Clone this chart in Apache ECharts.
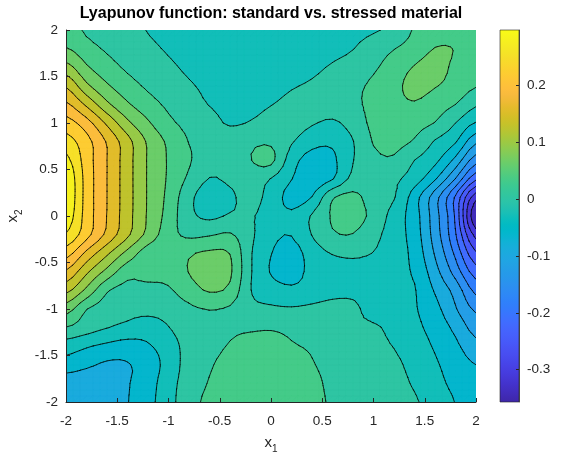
<!DOCTYPE html>
<html>
<head>
<meta charset="utf-8">
<script src="https://cdn.jsdelivr.net/npm/echarts@6/dist/echarts.min.js"></script>
<style>
  html, body { margin: 0; padding: 0; background: #ffffff; }
  #chart { width: 562px; height: 452px; }
</style>
</head>
<body>
<div id="chart"></div>
<script>
// Sample grid of the state plane
const x1Grid = [-2.0, -1.8, -1.6, -1.4, -1.2, -1.0, -0.8, -0.6, -0.4, -0.2, 0.0, 0.2, 0.4, 0.6, 0.8, 1.0, 1.2, 1.4, 1.6, 1.8, 2.0];
const x2Grid = [2.0, 1.8, 1.6, 1.4, 1.2, 1.0, 0.8, 0.6, 0.4, 0.2, 0.0, -0.2, -0.4, -0.6, -0.8, -1.0, -1.2, -1.4, -1.6, -1.8, -2.0];

// Lyapunov function values V(x1, x2); one row per x2 value (top row x2 = 2)
const V = [
  [0.030, 0.013, 0.003, -0.006, -0.015, -0.022, -0.028, -0.031, -0.033, -0.034, -0.034, -0.033, -0.030, -0.026, -0.021, -0.017, -0.005, 0.020, 0.033, 0.039, 0.033],
  [0.050, 0.028, 0.013, 0.002, -0.008, -0.017, -0.025, -0.030, -0.033, -0.034, -0.034, -0.033, -0.030, -0.025, -0.015, 0.002, 0.016, 0.030, 0.049, 0.047, 0.036],
  [0.092, 0.052, 0.029, 0.012, 0.001, -0.009, -0.019, -0.026, -0.030, -0.031, -0.032, -0.030, -0.022, -0.010, 0.002, 0.013, 0.030, 0.050, 0.059, 0.042, 0.034],
  [0.139, 0.087, 0.052, 0.029, 0.012, 0.000, -0.011, -0.020, -0.026, -0.028, -0.026, -0.017, -0.009, 0.002, 0.011, 0.022, 0.039, 0.058, 0.050, 0.036, 0.019],
  [0.179, 0.136, 0.087, 0.052, 0.029, 0.011, -0.003, -0.015, -0.022, -0.023, -0.015, -0.005, 0.002, 0.003, 0.011, 0.025, 0.038, 0.045, 0.031, 0.017, -0.010],
  [0.218, 0.186, 0.136, 0.087, 0.052, 0.024, 0.008, -0.004, -0.017, -0.012, -0.001, 0.000, -0.011, -0.019, -0.001, 0.024, 0.031, 0.027, 0.016, -0.014, -0.047],
  [0.250, 0.215, 0.170, 0.122, 0.075, 0.042, 0.016, 0.005, 0.002, 0.011, 0.012, -0.011, -0.034, -0.039, -0.015, 0.019, 0.024, 0.014, -0.017, -0.042, -0.101],
  [0.276, 0.220, 0.173, 0.124, 0.077, 0.045, 0.020, -0.001, -0.003, 0.016, 0.025, -0.031, -0.058, -0.051, -0.015, 0.009, 0.013, -0.014, -0.037, -0.085, -0.157],
  [0.293, 0.223, 0.173, 0.124, 0.077, 0.044, 0.011, -0.015, -0.008, 0.000, -0.015, -0.044, -0.062, -0.047, -0.005, 0.000, -0.008, -0.030, -0.072, -0.140, -0.226],
  [0.295, 0.223, 0.173, 0.124, 0.077, 0.040, -0.005, -0.031, -0.020, -0.003, -0.026, -0.056, -0.044, 0.014, 0.025, 0.002, -0.012, -0.062, -0.125, -0.206, -0.316],
  [0.286, 0.222, 0.172, 0.123, 0.076, 0.036, -0.005, -0.020, -0.011, -0.011, -0.028, -0.040, -0.011, 0.020, 0.028, 0.008, -0.027, -0.062, -0.125, -0.206, -0.357],
  [0.265, 0.215, 0.165, 0.117, 0.070, 0.030, 0.011, 0.014, 0.020, -0.008, -0.036, -0.044, -0.013, 0.013, 0.016, -0.005, -0.029, -0.060, -0.121, -0.198, -0.307],
  [0.218, 0.165, 0.117, 0.070, 0.031, 0.028, 0.044, 0.053, 0.047, -0.011, -0.044, -0.058, -0.031, -0.012, -0.006, -0.015, -0.030, -0.055, -0.110, -0.177, -0.259],
  [0.169, 0.117, 0.070, 0.028, 0.030, 0.028, 0.049, 0.064, 0.053, -0.011, -0.047, -0.059, -0.036, -0.033, -0.031, -0.031, -0.036, -0.049, -0.095, -0.152, -0.217],
  [0.120, 0.072, 0.020, 0.008, 0.006, 0.013, 0.033, 0.051, 0.040, -0.013, -0.030, -0.038, -0.031, -0.023, -0.023, -0.031, -0.036, -0.043, -0.079, -0.119, -0.179],
  [0.063, 0.018, 0.004, -0.004, -0.005, -0.001, 0.011, 0.018, 0.013, -0.005, -0.009, -0.011, -0.008, -0.005, -0.006, -0.030, -0.030, -0.042, -0.066, -0.104, -0.145],
  [0.016, 0.000, -0.013, -0.022, -0.030, -0.015, 0.005, 0.009, 0.013, 0.013, 0.014, 0.009, 0.002, -0.003, -0.006, -0.009, -0.024, -0.038, -0.056, -0.084, -0.120],
  [-0.030, -0.042, -0.052, -0.058, -0.048, -0.030, -0.001, 0.009, 0.019, 0.028, 0.030, 0.020, 0.013, 0.003, -0.001, -0.005, -0.015, -0.031, -0.048, -0.069, -0.097],
  [-0.059, -0.070, -0.081, -0.078, -0.061, -0.033, -0.001, 0.014, 0.027, 0.033, 0.034, 0.031, 0.019, 0.008, 0.003, -0.001, -0.008, -0.023, -0.041, -0.059, -0.076],
  [-0.094, -0.097, -0.092, -0.078, -0.059, -0.026, 0.000, 0.019, 0.030, 0.034, 0.036, 0.033, 0.024, 0.011, 0.005, 0.002, -0.005, -0.017, -0.035, -0.053, -0.067],
  [-0.097, -0.098, -0.092, -0.077, -0.055, -0.025, 0.005, 0.024, 0.030, 0.033, 0.033, 0.030, 0.024, 0.014, 0.009, 0.005, -0.001, -0.011, -0.026, -0.046, -0.059]
];

// Contour levels and colour limits
const contourLevels = [-0.326, -0.295, -0.263, -0.232, -0.201, -0.170, -0.139, -0.107, -0.076, -0.045,
                       -0.014, 0.017, 0.048, 0.080, 0.111, 0.142, 0.173, 0.204, 0.236, 0.267];
const colorLimits = [-0.357, 0.298];
const colorbarTicks = [-0.3, -0.2, -0.1, 0, 0.1, 0.2];
const titleText = 'Lyapunov function: standard vs. stressed material';

// parula colormap (64 entries)
const PARULA = [
  [0.2422,0.1504,0.6603],[0.2504,0.1650,0.7076],[0.2578,0.1818,0.7511],[0.2647,0.1978,0.7952],
  [0.2706,0.2147,0.8364],[0.2751,0.2342,0.8710],[0.2783,0.2559,0.8991],[0.2803,0.2782,0.9221],
  [0.2813,0.3006,0.9414],[0.2810,0.3228,0.9579],[0.2795,0.3447,0.9717],[0.2760,0.3667,0.9829],
  [0.2699,0.3892,0.9906],[0.2602,0.4123,0.9952],[0.2440,0.4358,0.9988],[0.2206,0.4603,0.9973],
  [0.1963,0.4847,0.9892],[0.1834,0.5074,0.9798],[0.1786,0.5289,0.9682],[0.1764,0.5499,0.9520],
  [0.1687,0.5703,0.9359],[0.1540,0.5902,0.9218],[0.1460,0.6091,0.9079],[0.1380,0.6276,0.8973],
  [0.1248,0.6459,0.8883],[0.1113,0.6635,0.8763],[0.0952,0.6798,0.8598],[0.0689,0.6948,0.8394],
  [0.0297,0.7082,0.8163],[0.0036,0.7203,0.7917],[0.0067,0.7312,0.7660],[0.0433,0.7411,0.7394],
  [0.0964,0.7500,0.7120],[0.1408,0.7584,0.6842],[0.1717,0.7670,0.6554],[0.1938,0.7758,0.6251],
  [0.2161,0.7843,0.5923],[0.2470,0.7918,0.5567],[0.2906,0.7973,0.5188],[0.3406,0.8008,0.4789],
  [0.3909,0.8029,0.4354],[0.4456,0.8024,0.3909],[0.5044,0.7993,0.3480],[0.5616,0.7942,0.3045],
  [0.6174,0.7876,0.2612],[0.6720,0.7793,0.2227],[0.7242,0.7698,0.1910],[0.7738,0.7598,0.1646],
  [0.8203,0.7498,0.1535],[0.8634,0.7406,0.1596],[0.9035,0.7330,0.1774],[0.9393,0.7288,0.2100],
  [0.9728,0.7298,0.2394],[0.9956,0.7434,0.2371],[0.9970,0.7659,0.2199],[0.9952,0.7893,0.2028],
  [0.9892,0.8136,0.1885],[0.9786,0.8386,0.1766],[0.9676,0.8639,0.1643],[0.9610,0.8890,0.1537],
  [0.9597,0.9135,0.1423],[0.9628,0.9373,0.1265],[0.9691,0.9606,0.1064],[0.9769,0.9839,0.0805]
];

function parula(f) {
  f = Math.max(0, Math.min(1, f));
  const p = f * (PARULA.length - 1);
  const i = Math.min(PARULA.length - 2, Math.floor(p));
  const t = p - i;
  const a = PARULA[i], b = PARULA[i + 1];
  const c = [0, 1, 2].map(k => Math.round(255 * (a[k] + (b[k] - a[k]) * t)));
  return 'rgb(' + c.join(',') + ')';
}

const [cMin, cMax] = colorLimits;
// Each band between two levels is filled with the colour at the middle of that band
function bandColor(k) {
  const lo = k === 0 ? cMin : contourLevels[k - 1];
  const hi = k === contourLevels.length ? cMax : contourLevels[k];
  return parula(((lo + hi) / 2 - cMin) / (cMax - cMin));
}

// Smooth (Catmull-Rom) resampling of the value grid so the drawn contours are curved
const REFINE = 3;
function cr(p0, p1, p2, p3, t) {
  return 0.5 * (2 * p1 + (-p0 + p2) * t + (2 * p0 - 5 * p1 + 4 * p2 - p3) * t * t + (-p0 + 3 * p1 - 3 * p2 + p3) * t * t * t);
}
function sampleGrid(rf, cf) {
  const nr = V.length, nc = V[0].length;
  const r1 = Math.min(nr - 2, Math.floor(rf)), c1 = Math.min(nc - 2, Math.floor(cf));
  const tr = rf - r1, tc = cf - c1;
  const rowAt = r => V[Math.max(0, Math.min(nr - 1, r))];
  const colVal = (row, c) => row[Math.max(0, Math.min(nc - 1, c))];
  const vals = [];
  for (let dr = -1; dr <= 2; dr++) {
    const row = rowAt(r1 + dr);
    vals.push(cr(colVal(row, c1 - 1), colVal(row, c1), colVal(row, c1 + 1), colVal(row, c1 + 2), tc));
  }
  return cr(vals[0], vals[1], vals[2], vals[3], tr);
}

function buildTriangles() {
  const nr = (x2Grid.length - 1) * REFINE + 1;
  const nc = (x1Grid.length - 1) * REFINE + 1;
  const x0 = x1Grid[0], dx = (x1Grid[1] - x1Grid[0]) / REFINE;
  const y0 = x2Grid[0], dy = (x2Grid[1] - x2Grid[0]) / REFINE;
  const P = [];
  for (let R = 0; R < nr; R++) {
    const row = [];
    for (let C = 0; C < nc; C++) {
      row.push({ x: x0 + C * dx, y: y0 + R * dy, v: sampleGrid(R / REFINE, C / REFINE) });
    }
    P.push(row);
  }
  const tris = [];
  for (let R = 0; R < nr - 1; R++) {
    for (let C = 0; C < nc - 1; C++) {
      const p00 = P[R + 1][C], p10 = P[R + 1][C + 1], p11 = P[R][C + 1], p01 = P[R][C];
      tris.push([p00, p10, p11], [p00, p11, p01]);
    }
  }
  return tris;
}
const TRIS = buildTriangles();

// Part of a polygon where the value is >= level
function clipAbove(poly, level) {
  const out = [];
  for (let i = 0; i < poly.length; i++) {
    const a = poly[i], b = poly[(i + 1) % poly.length];
    const ain = a.v >= level, bin = b.v >= level;
    if (ain) out.push(a);
    if (ain !== bin) {
      const s = (level - a.v) / (b.v - a.v);
      out.push({ x: a.x + (b.x - a.x) * s, y: a.y + (b.y - a.y) * s, v: level });
    }
  }
  return out;
}

function renderContours(params, api) {
  const px = p => api.coord([p.x, p.y]);
  const fmt = q => q[0].toFixed(2) + ' ' + q[1].toFixed(2);
  const children = [];
  // filled bands, painted from the lowest level upward
  for (let k = 0; k <= contourLevels.length; k++) {
    const level = k === 0 ? -Infinity : contourLevels[k - 1];
    const d = [];
    for (const t of TRIS) {
      const poly = k === 0 ? t : clipAbove(t, level);
      if (poly.length < 3) continue;
      poly.forEach((p, i) => d.push((i ? 'L' : 'M') + fmt(px(p))));
      d.push('Z');
    }
    if (d.length) {
      const col = bandColor(k);
      children.push({
        type: 'path', silent: true,
        shape: { pathData: d.join('') },
        style: { fill: col, stroke: col, lineWidth: 0.5 }
      });
    }
  }
  // iso-lines
  const ld = [];
  for (const level of contourLevels) {
    for (const t of TRIS) {
      const pts = [];
      for (let i = 0; i < 3; i++) {
        const a = t[i], b = t[(i + 1) % 3];
        if ((a.v >= level) !== (b.v >= level)) {
          const s = (level - a.v) / (b.v - a.v);
          pts.push({ x: a.x + (b.x - a.x) * s, y: a.y + (b.y - a.y) * s });
        }
      }
      if (pts.length === 2) ld.push('M' + fmt(px(pts[0])) + 'L' + fmt(px(pts[1])));
    }
  }
  children.push({
    type: 'path', silent: true,
    shape: { pathData: ld.join('') },
    style: { fill: 'none', stroke: '#000000', lineWidth: 0.8, lineJoin: 'round', lineCap: 'round' }
  });
  return { type: 'group', children };
}

function renderColorbar(params, api) {
  const tl = api.coord([0, cMax]);
  const br = api.coord([1, cMin]);
  const stops = PARULA.map((c, i) => ({
    offset: i / (PARULA.length - 1),
    color: 'rgb(' + c.map(v => Math.round(v * 255)).join(',') + ')'
  }));
  return {
    type: 'rect', silent: true,
    shape: { x: tl[0], y: tl[1], width: br[0] - tl[0], height: br[1] - tl[1] },
    style: { fill: new echarts.graphic.LinearGradient(0, 1, 0, 0, stops), stroke: '#262626', lineWidth: 0.6 }
  };
}

const FONT = '"Liberation Sans", Arial, Helvetica, sans-serif';
const AX = '#262626';
const subRich = {
  v: { fontSize: 15, fontFamily: FONT, color: AX, lineHeight: 22, verticalAlign: 'middle' },
  s: { fontSize: 10, fontFamily: FONT, color: AX, lineHeight: 22, verticalAlign: 'bottom' }
};

const chart = echarts.init(document.getElementById('chart'), null, { renderer: 'canvas' });
chart.setOption({
  animation: false,
  backgroundColor: '#ffffff',
  textStyle: { fontFamily: FONT },
  title: {
    text: titleText, left: 266, top: 1, textAlign: 'center',
    textStyle: { fontFamily: FONT, fontSize: 16, fontWeight: 'bold', color: '#000000' }
  },
  grid: [
    { left: 66, top: 30, width: 410, height: 372, containLabel: false, outerBoundsMode: 'none' },
    { left: 500, top: 30, width: 19, height: 372, containLabel: false, outerBoundsMode: 'none' }
  ],
  xAxis: [
    {
      type: 'value', gridIndex: 0, min: -2, max: 2, interval: 0.5,
      axisLine: { onZero: false, lineStyle: { color: AX, width: 1 } },
      axisTick: { inside: true, length: 4, lineStyle: { color: AX } },
      axisLabel: { color: AX, fontSize: 13.5, margin: 12, fontFamily: FONT },
      splitLine: { show: false },
      name: '{v|x}{s|1}', nameLocation: 'middle', nameGap: 30,
      nameTextStyle: { color: AX, fontFamily: FONT, rich: subRich },
      z: 10
    },
    { type: 'value', gridIndex: 1, min: 0, max: 1, show: false }
  ],
  yAxis: [
    {
      type: 'value', gridIndex: 0, min: -2, max: 2, interval: 0.5,
      axisLine: { onZero: false, lineStyle: { color: AX, width: 1 } },
      axisTick: { inside: true, length: 4, lineStyle: { color: AX } },
      axisLabel: { color: AX, fontSize: 13.5, margin: 8, fontFamily: FONT },
      splitLine: { show: false },
      name: '{v|x}{s|2}', nameLocation: 'middle', nameGap: 42, nameRotate: 90,
      nameTextStyle: { color: AX, fontFamily: FONT, rich: subRich },
      z: 10
    },
    {
      type: 'value', gridIndex: 1, min: cMin, max: cMax, position: 'right',
      axisLine: { show: true, onZero: false, lineStyle: { color: AX, width: 0.8 } },
      axisTick: { show: true, inside: true, length: 3, customValues: colorbarTicks, lineStyle: { color: AX } },
      axisLabel: {
        show: true, color: AX, fontSize: 13.5, margin: 8, fontFamily: FONT,
        customValues: colorbarTicks,
        formatter: v => String(Math.round(v * 10) / 10)
      },
      splitLine: { show: false },
      z: 10
    }
  ],
  series: [
    {
      type: 'custom', xAxisIndex: 0, yAxisIndex: 0,
      coordinateSystem: 'cartesian2d', clip: true, silent: true,
      renderItem: renderContours,
      data: [[0, 0]], z: 1
    },
    {
      type: 'custom', xAxisIndex: 1, yAxisIndex: 1,
      coordinateSystem: 'cartesian2d', silent: true,
      renderItem: renderColorbar,
      data: [[0, 0]], z: 1
    }
  ]
});
</script>
</body>
</html>
